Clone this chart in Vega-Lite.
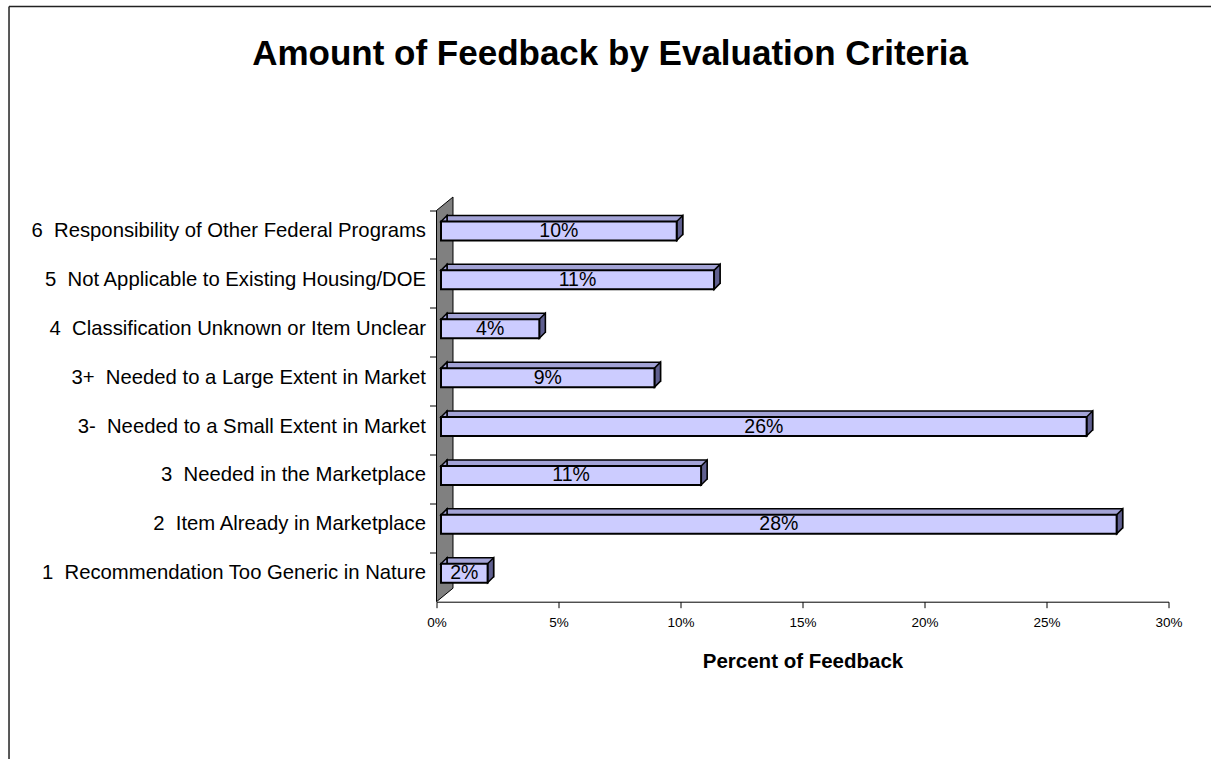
{
  "$schema": "https://vega.github.io/schema/vega-lite/v6.json",
  "autosize": {"type": "none"},
  "padding": {"left": 436.5, "top": 210.5, "right": 42.5, "bottom": 157.3},
  "width": 732,
  "height": 391.2,
  "background": "white",
  "config": {"font": "Liberation Sans", "view": {"stroke": null}},
  "title": {
    "text": "Amount of Feedback by Evaluation Criteria",
    "fontSize": 35,
    "fontWeight": "bold",
    "font": "Liberation Sans",
    "color": "black",
    "anchor": "middle",
    "frame": "group",
    "baseline": "alphabetic",
    "dx": -192.5,
    "offset": -94.6
  },
  "data": {
    "values": [
      {"criterion": "6\u00a0 Responsibility of Other Federal Programs", "share": 0.0966},
      {"criterion": "5\u00a0 Not Applicable to Existing Housing/DOE", "share": 0.1119},
      {"criterion": "4\u00a0 Classification Unknown or Item Unclear", "share": 0.0403},
      {"criterion": "3+\u00a0 Needed to a Large Extent in Market", "share": 0.0875},
      {"criterion": "3-\u00a0 Needed to a Small Extent in Market", "share": 0.2646},
      {"criterion": "3\u00a0 Needed in the Marketplace", "share": 0.1066},
      {"criterion": "2\u00a0 Item Already in Marketplace", "share": 0.2769},
      {"criterion": "1\u00a0 Recommendation Too Generic in Nature", "share": 0.0191}
    ]
  },
  "resolve": {"scale": {"x": "independent", "y": "independent"}},
  "layer": [
    {
      "data": {"values": [{}]},
      "mark": {"type": "rule", "stroke": "#222222", "strokeWidth": 1.5},
      "encoding": {
        "x": {"datum": -0.1752, "type": "quantitative", "scale": {"domain": [0, 0.3]}, "axis": null},
        "x2": {"datum": 0.34},
        "y": {"datum": 12.17, "type": "quantitative", "scale": {"domain": [0, 8], "nice": false, "zero": false}, "axis": null}
      }
    },
    {
      "data": {"values": [{}]},
      "mark": {"type": "rule", "stroke": "#222222", "strokeWidth": 1.5},
      "encoding": {
        "x": {"datum": -0.1752, "type": "quantitative", "scale": {"domain": [0, 0.3]}, "axis": null},
        "y": {"datum": 12.17, "type": "quantitative", "scale": {"domain": [0, 8], "nice": false, "zero": false}, "axis": null},
        "y2": {"datum": -4}
      }
    },
    {
      "data": {"values": [{"wx": 0, "lo": 0, "hi": 8}, {"wx": 0.00676, "lo": 0.276, "hi": 8.276}]},
      "mark": {"type": "area", "orient": "vertical", "fill": "#808080", "stroke": "black", "strokeWidth": 1, "opacity": 1},
      "encoding": {
        "x": {"field": "wx", "type": "quantitative", "scale": {"domain": [0, 0.3]}, "axis": null},
        "y": {"field": "hi", "type": "quantitative", "scale": {"domain": [0, 8], "nice": false, "zero": false}, "axis": null, "stack": null},
        "y2": {"field": "lo"}
      }
    },
    {
      "mark": {"type": "bar", "height": 19, "yOffset": -10, "xOffset": 10.5, "x2Offset": 10.5, "fill": "#A3A3D6", "stroke": "black", "strokeWidth": 1.5},
      "encoding": {
        "x": {"field": "share", "type": "quantitative", "stack": null, "scale": {"domain": [0, 0.3]}, "axis": null},
        "x2": {"datum": 0},
        "y": {"field": "criterion", "type": "nominal", "sort": null, "scale": {"type": "band", "paddingInner": 0, "paddingOuter": 0}, "axis": null}
      }
    },
    {
      "mark": {"type": "point", "shape": "M0,-9.5L6,-15.5L6,-9.5Z", "size": 4, "filled": true, "fill": "#A3A3D6", "stroke": "black", "strokeWidth": 1.5, "opacity": 1, "xOffset": 4.5, "yOffset": -4},
      "encoding": {
        "x": {"datum": 0, "type": "quantitative", "scale": {"domain": [0, 0.3]}, "axis": null},
        "y": {"field": "criterion", "type": "nominal", "sort": null, "scale": {"type": "band", "paddingInner": 0, "paddingOuter": 0}, "axis": null}
      }
    },
    {
      "mark": {"type": "point", "shape": "M0,-9.5L6,-15.5L6,3.5L0,9.5Z", "size": 4, "filled": true, "fill": "#5F5F8F", "stroke": "black", "strokeWidth": 1.5, "opacity": 1, "xOffset": 4.5, "yOffset": -4},
      "encoding": {
        "x": {"field": "share", "type": "quantitative", "scale": {"domain": [0, 0.3]}, "axis": null},
        "y": {"field": "criterion", "type": "nominal", "sort": null, "scale": {"type": "band", "paddingInner": 0, "paddingOuter": 0}, "axis": null}
      }
    },
    {
      "mark": {"type": "bar", "height": 19, "yOffset": -4, "xOffset": 4.5, "x2Offset": 4.5, "fill": "#CCCCFF", "stroke": "black", "strokeWidth": 2},
      "encoding": {
        "x": {
          "field": "share", "type": "quantitative", "stack": null, "scale": {"domain": [0, 0.3]},
          "axis": {
            "values": [0, 0.05, 0.1, 0.15, 0.2, 0.25, 0.3], "format": ".0%", "title": "Percent of Feedback",
            "titleFontSize": 20.5, "titleFontWeight": "bold", "titleColor": "black", "titlePadding": 22,
            "labelFontSize": 13.5, "labelColor": "black", "labelPadding": 8, "tickSize": 6, "tickColor": "black",
            "domainColor": "black", "grid": false, "labelFlush": false
          }
        },
        "x2": {"datum": 0},
        "y": {
          "field": "criterion", "type": "nominal", "sort": null, "scale": {"type": "band", "paddingInner": 0, "paddingOuter": 0},
          "axis": {
            "title": null, "bandPosition": 0, "labelOffset": -4, "tickSize": 7, "labelPadding": 4,
            "labelFontSize": 20.3, "labelLimit": 600, "labelColor": "black", "tickColor": "black", "domain": false, "grid": false
          }
        }
      }
    },
    {
      "mark": {"type": "text", "dx": 4.5, "dy": -4, "fontSize": 19.5, "baseline": "middle", "align": "center", "color": "black"},
      "encoding": {
        "x": {"field": "share", "type": "quantitative", "scale": {"domain": [0, 0.6]}, "axis": null},
        "y": {"field": "criterion", "type": "nominal", "sort": null, "scale": {"type": "band", "paddingInner": 0, "paddingOuter": 0}, "axis": null},
        "text": {"field": "share", "type": "quantitative", "format": ".0%"}
      }
    }
  ]
}
